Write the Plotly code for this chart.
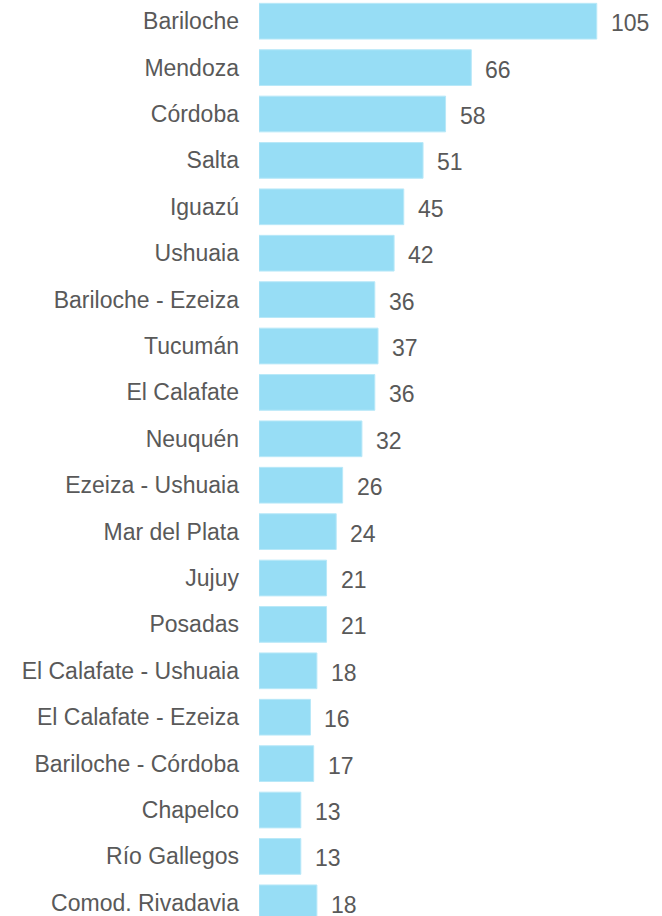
import plotly.graph_objects as go

categories = ["Bariloche", "Mendoza", "Córdoba", "Salta", "Iguazú", "Ushuaia",
              "Bariloche - Ezeiza", "Tucumán", "El Calafate", "Neuquén",
              "Ezeiza - Ushuaia", "Mar del Plata", "Jujuy", "Posadas",
              "El Calafate - Ushuaia", "El Calafate - Ezeiza", "Bariloche - Córdoba",
              "Chapelco", "Río Gallegos", "Comod. Rivadavia"]
values = [105, 66, 58, 51, 45, 42, 36, 37, 36, 32, 26, 24, 21, 21, 18, 16, 17, 13, 13, 18]

FONT = "Liberation Sans, Arial, sans-serif"
TXT = "#595959"
FS = 23

fig = go.Figure(go.Bar(
    x=values, y=categories, orientation="h",
    marker=dict(color="#97DDF5", line=dict(color="#B8E8F8", width=1)),
    width=0.77, hoverinfo="skip"))

for c, v in zip(categories, values):
    fig.add_annotation(x=v, y=c, text=str(v), showarrow=False,
                       xanchor="left", yanchor="middle", xshift=12, yshift=-2,
                       font=dict(family=FONT, size=FS, color=TXT))

fig.update_layout(
    width=662, height=916,
    margin=dict(l=259, r=17, t=0, b=0, autoexpand=False),
    paper_bgcolor="white", plot_bgcolor="white",
    showlegend=False,
    font=dict(family=FONT, size=FS, color=TXT),
)
fig.update_xaxes(range=[0, 120], visible=False, fixedrange=True, automargin=False)
fig.update_yaxes(type="category", categoryorder="array", categoryarray=categories,
                 range=[19.284, -0.457], showgrid=False, zeroline=False,
                 showline=False, ticks="", ticklabelstandoff=19, automargin=False,
                 tickfont=dict(family=FONT, size=FS, color=TXT), fixedrange=True)

fig.write_html("out.html", config={"displayModeBar": False},
               post_script="document.body.style.margin='0';")
